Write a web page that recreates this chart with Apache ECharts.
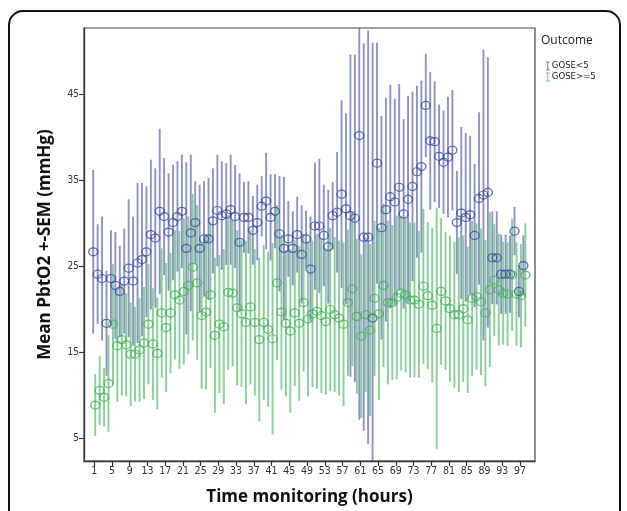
<!DOCTYPE html>
<html><head><meta charset="utf-8">
<script src="https://cdn.jsdelivr.net/npm/echarts@6/dist/echarts.min.js"></script>
<style>html,body{margin:0;padding:0;background:#fff}#c{width:627px;height:511px}</style>
</head><body><div id="c"></div>
<script>
const hours = Array.from({length:98},(_,i)=>i+1);
const xTickLabels = [1,5,9,13,17,21,25,29,33,37,41,45,49,53,57,61,65,69,73,77,81,85,89,93,97];
const yTickLabels = [5,15,25,35,45];
const seriesNames = ['GOSE<5','GOSE>=5'];

const blueMean = [26.7,24.1,23.6,18.4,23.6,22.8,22.1,23.3,24.8,23.3,
25.4,25.8,26.7,28.7,28.3,31.4,30.8,29.0,30.1,30.8,
31.4,27.1,28.9,30.1,27.1,28.2,28.2,30.3,31.5,30.9,
31.1,31.6,30.8,27.8,30.7,30.7,29.2,30.1,32.0,32.6,
30.7,31.4,28.8,27.1,28.2,27.1,28.7,26.4,28.2,24.7,
29.7,29.7,28.6,27.3,30.9,31.3,33.4,31.7,30.9,30.6,
40.2,28.4,28.4,19.0,37.0,29.5,31.6,33.1,32.5,34.2,
31.1,32.8,34.3,36.0,36.6,43.7,39.6,39.5,37.8,37.1,
37.7,38.5,30.1,31.2,30.7,31.0,28.6,32.9,33.3,33.6,
26.0,26.0,24.1,24.1,24.1,29.1,22.1,25.1];

const blueSem = [9.5,5.8,7.2,6.1,5.6,6.2,5.3,6.1,8.0,7.5,
9.3,8.9,7.6,8.7,8.1,9.6,6.8,6.8,6.7,6.4,
6.6,10.0,9.1,4.8,7.4,6.7,7.1,6.1,6.5,6.3,
5.9,6.4,6.0,8.0,4.1,4.2,4.0,4.4,3.5,5.6,
5.0,4.3,6.7,8.3,4.4,4.3,4.4,5.7,3.3,6.1,
7.4,7.8,5.9,6.6,3.9,7.0,10.9,11.1,18.7,19.0,
33.0,22.5,24.0,32.0,14.0,13.0,13.0,13.0,12.0,12.0,
11.0,12.0,11.0,10.0,10.0,6.0,8.0,7.0,6.0,6.0,
7.0,7.0,6.0,10.0,9.8,9.2,8.3,10.0,16.9,15.7,
5.4,5.4,4.6,4.6,4.5,2.8,3.0,3.5];

const greenMean = [8.9,10.6,9.8,11.4,18.3,15.8,16.5,15.9,14.8,14.8,
15.3,16.1,18.3,16.0,14.9,19.6,17.9,19.6,21.7,21.1,
22.1,22.8,24.9,23.1,19.3,19.7,21.7,17.0,18.3,18.0,
22.0,21.9,20.2,19.5,18.5,20.3,18.5,16.5,18.5,17.7,
16.6,23.1,19.7,18.4,17.5,19.6,18.4,20.8,18.9,19.5,
19.8,19.3,18.6,20.0,19.4,19.0,18.3,20.8,22.4,19.2,
16.9,19.4,17.6,21.3,19.5,22.8,20.8,20.8,21.4,21.9,
21.7,21.1,21.1,20.6,22.7,21.6,20.5,17.8,22.1,21.0,
20.1,19.4,19.4,20.1,18.8,21.3,21.5,20.9,19.6,22.3,
23.4,22.3,21.9,21.8,24.0,21.8,21.6,24.0];

const greenSem = [3.6,4.0,3.4,5.6,7.0,6.5,6.5,6.0,6.0,5.5,
6.0,6.5,7.0,6.5,6.5,7.5,7.5,7.0,7.5,8.0,
8.5,8.0,8.5,9.0,8.5,9.0,8.5,9.0,8.0,9.0,
9.0,8.5,9.0,8.5,9.5,9.0,8.5,9.5,9.0,9.0,
11.1,9.0,9.0,8.5,9.5,8.5,9.0,8.0,9.0,8.5,
9.0,9.0,8.5,9.5,9.0,9.0,9.5,8.5,9.0,9.0,
9.5,9.0,10.0,9.0,10.0,9.5,9.5,9.0,9.5,9.0,
9.0,9.0,9.0,8.5,9.0,8.5,9.0,14.0,8.5,8.0,
8.5,8.5,9.0,8.5,8.5,9.0,8.5,8.5,8.5,9.0,
6.5,6.5,6.0,6.0,6.5,6.0,6.0,6.0];

const BLUE_LINE = 'rgba(70,80,165,0.62)';
const GREEN_LINE = 'rgba(72,178,94,0.64)';
const BLUE_DOT = '#3d4aa3';
const GREEN_DOT = '#3fb454';
const TITLE_FONT = 'Open Sans, DejaVu Sans, sans-serif';
const TICK_FONT = 'DejaVu Sans Condensed, Liberation Sans Narrow, sans-serif';

function errSeries(name, mean, sem, color, dx, z) {
  return {
    type: 'custom', name, z,
    itemStyle: {color},
    data: hours.map((h,i)=>[h, mean[i]-sem[i], mean[i]+sem[i]]),
    encode: {x:0, y:[1,2]},
    clip: true,
    renderItem: (params, api) => {
      const x = api.value(0);
      const lo = api.coord([x, api.value(1)]);
      const hi = api.coord([x, api.value(2)]);
      return {type:'line', shape:{x1:lo[0]+dx,y1:lo[1],x2:hi[0]+dx,y2:hi[1]},
        style:{stroke:color,lineWidth:1.9}};
    }
  };
}
function dotSeries(name, mean, color, dx) {
  return {
    type:'scatter', name, z:5, symbol:'circle', symbolSize:[9,8], symbolOffset:[dx,0],
    itemStyle:{color:'rgba(255,255,255,0)', borderColor:color, borderWidth:1.3},
    data: hours.map((h,i)=>[h, mean[i]]),
    silent:true
  };
}

const chart = echarts.init(document.getElementById('c'), null, {renderer:'canvas'});
chart.setOption({
  animation:false,
  backgroundColor:'#fff',
  grid:{left:84,right:92,top:28,bottom:49,show:true,borderColor:'#444',borderWidth:1.2,backgroundColor:'transparent'},
  xAxis:{type:'value',min:-1.3,max:100.4,
    name:'Time monitoring (hours)',nameLocation:'middle',nameGap:28,
    nameTextStyle:{fontFamily:TITLE_FONT,fontWeight:'bold',fontSize:17,color:'#111'},
    axisLine:{show:true,onZero:false,lineStyle:{color:'#333',width:1.3}},
    axisTick:{show:true,length:5,lineStyle:{color:'#333',width:1.2},customValues:xTickLabels},
    axisLabel:{customValues:xTickLabels,fontSize:10.5,color:'#333',margin:5,fontFamily:TICK_FONT},
    splitLine:{show:false}},
  yAxis:{type:'value',min:2.4,max:52.7,
    name:'Mean PbtO2 +-SEM (mmHg)',nameLocation:'middle',nameGap:30,nameRotate:90,
    nameTextStyle:{fontFamily:TITLE_FONT,fontWeight:'bold',fontSize:17,color:'#111'},
    axisLine:{show:true,onZero:false,lineStyle:{color:'#333',width:1.3}},
    axisTick:{show:true,length:5,lineStyle:{color:'#333',width:1.2},customValues:yTickLabels},
    axisLabel:{customValues:yTickLabels,fontSize:10,color:'#333',margin:5,fontFamily:TICK_FONT},
    splitLine:{show:false}},
  legend:{orient:'vertical',left:541,top:56,itemGap:1,itemWidth:4,itemHeight:9,
    data:[{name:seriesNames[0],icon:'path://M0,0H4V1H2.5V9H4V10H0V9H1.5V1H0Z',itemStyle:{color:'#6a6f9a'}},
          {name:seriesNames[1],icon:'path://M0,0H4V1H2.5V9H4V10H0V9H1.5V1H0Z',itemStyle:{color:'#6cc07c'}}],
    textStyle:{fontSize:9.5,color:'#222',fontFamily:TICK_FONT,padding:[0,0,0,-3]}},
  graphic:[
    {type:'rect',shape:{x:9,y:11,width:611,height:560,r:14},style:{fill:'none',stroke:'#111',lineWidth:2},silent:true,z:100},
    {type:'text',left:541,top:35,style:{text:'Outcome',fontSize:12,fill:'#222',fontFamily:TITLE_FONT}}
  ],
  series:[
    errSeries(seriesNames[1], greenMean, greenSem, GREEN_LINE, 1, 2),
    errSeries(seriesNames[0], blueMean, blueSem, BLUE_LINE, -1, 3),
    dotSeries('b', blueMean, BLUE_DOT, -1),
    dotSeries('g', greenMean, GREEN_DOT, 1)
  ]
});
</script></body></html>
